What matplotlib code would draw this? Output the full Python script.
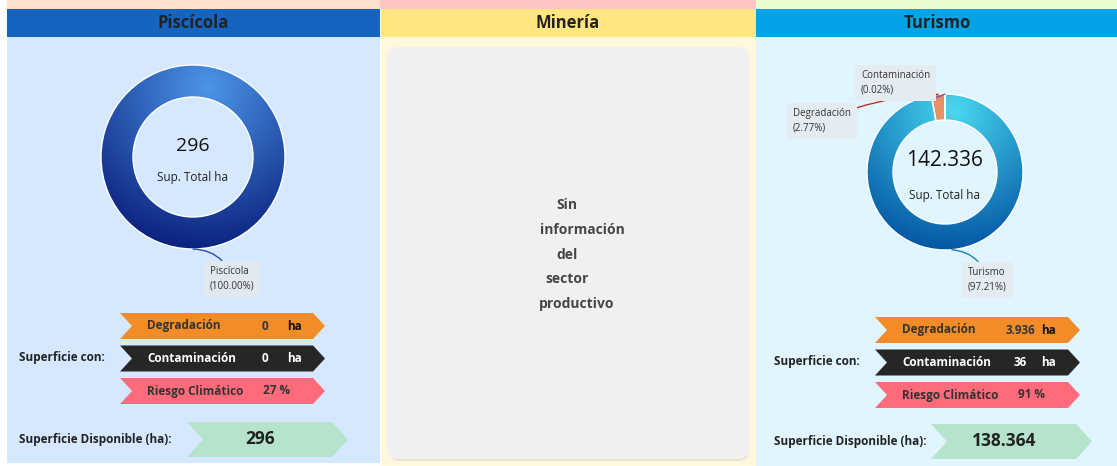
import numpy as np
import matplotlib.pyplot as plt
from matplotlib.patches import Rectangle, Polygon, FancyBboxPatch
from matplotlib.colors import LinearSegmentedColormap

plt.rcParams['font.family'] = ['Open Sans', 'DejaVu Sans']

W, H = 1117, 466

# ---- data ----
sectors = ['Piscícola', 'Minería', 'Turismo']
pisc_labels = ['Piscícola']
pisc_values = [296]
pisc_pct = ['100.00%']
tur_labels = ['Turismo', 'Degradación', 'Contaminación']
tur_values = [138364, 3936, 36]
tur_pct = ['97.21%', '2.77%', '0.02%']
totals = [296, None, 142336]
degradacion = [0, None, 3936]
contaminacion = [0, None, 36]
riesgo = [27, None, 91]
disponible = [296, None, 138364]
mineria_msg = ['Sin', 'información', 'del', 'sector', 'productivo']


def Y(y):
    return H - y


def fmt(n):
    return f"{n:,}".replace(',', '.')


fig = plt.figure(figsize=(W / 100, H / 100), dpi=100)
ax = fig.add_axes([0, 0, 1, 1])
ax.set_xlim(0, W)
ax.set_ylim(0, H)
ax.axis('off')


def rect(x0, x1, y0, y1, color, z=1):
    ax.add_patch(Rectangle((x0, Y(y1)), x1 - x0, y1 - y0, fc=color, ec='none', zorder=z))


# panels
rect(7, 380, 0, 9, '#FFE0CC')
rect(380, 756, 0, 9, '#FFC4C4')
rect(756, W, 0, 9, '#E8FCCF')
rect(7, 380, 9, 37, '#1565C0')
rect(381, 756, 9, 37, '#FFE680')
rect(756, W, 9, 37, '#03A3E8')
rect(7, 380, 37, 463, '#D6E8FF')
rect(381, 756, 37, 466, '#FFF8DF')
rect(756, W, 37, 466, '#E0F5FF')
for name, xc in zip(sectors, [193, 568, 937]):
    ax.text(xc, Y(23), name, ha='center', va='center', fontsize=12,
            fontweight='bold', color='#222222', zorder=5)

# minería placeholder
ax.add_patch(FancyBboxPatch((389, Y(461)), 360, 412, boxstyle='round,pad=0,rounding_size=11',
                            fc='#E8E4D4', ec='none', zorder=2))
ax.add_patch(FancyBboxPatch((387, Y(459)), 362, 412, boxstyle='round,pad=0,rounding_size=11',
                            fc='#F0F0F0', ec='none', zorder=3))
for word, xc, yc in zip(mineria_msg, [567, 582, 567, 567, 577], [205, 230, 255, 279, 304]):
    ax.text(xc, Y(yc), word, ha='center', va='center', fontsize=10, fontweight='bold',
            color='#464646', zorder=5)


def donut(cx, cy, r, w, values, grads):
    wedges, _ = ax.pie(values, radius=r, center=(cx, Y(cy)), startangle=90,
                       counterclock=False,
                       wedgeprops=dict(width=w, edgecolor='white', linewidth=1))
    xs = np.linspace(cx - r, cx + r, 300)
    ys = np.linspace(Y(cy) - r, Y(cy) + r, 300)
    XX, YY = np.meshgrid(xs, ys)
    for wd, (c0, c1, dx, dy) in zip(wedges, grads):
        wd.set_zorder(4)
        wd.set_facecolor('none')
        cmap = LinearSegmentedColormap.from_list('g', [c0, c1])
        d = np.hypot(XX - (cx + dx), YY - (Y(cy) + dy)) / (1.9 * r)
        im = ax.imshow(d, extent=(cx - r, cx + r, Y(cy) - r, Y(cy) + r), origin='lower',
                       cmap=cmap, vmin=0, vmax=1, zorder=3, interpolation='bilinear')
        im.set_clip_path(wd)
    ax.set_xlim(0, W)
    ax.set_ylim(0, H)
    ax.set_aspect('auto')
    return wedges


def anchor(cx, cy, r, values, i):
    tot = float(sum(values))
    start = sum(values[:i]) / tot
    mid = 90 - 360 * (start + values[i] / tot / 2)
    a = np.deg2rad(mid)
    return cx + r * np.cos(a), Y(cy) + r * np.sin(a)


def label(xy, txt_xy, text, color, rad, fc):
    ax.annotate(text, xy=xy, xytext=(txt_xy[0], Y(txt_xy[1])), ha='left', va='center',
                fontsize=7, color='#333333', linespacing=1.4, zorder=6,
                bbox=dict(boxstyle='square,pad=0.6', fc=fc, ec='none'),
                arrowprops=dict(arrowstyle='-', color=color, lw=1,
                                connectionstyle=f'arc3,rad={rad}', shrinkA=0, shrinkB=0))


# Piscícola donut
donut(193, 157, 92, 32, pisc_values, [('#4C95E8', '#061A78', 15, 70)])
ax.text(193, Y(146), fmt(totals[0]), ha='center', va='center', fontsize=14, color='#111111', zorder=6)
ax.text(193, Y(178), 'Sup. Total ha', ha='center', va='center', fontsize=8.5, color='#222222', zorder=6)
label(anchor(193, 157, 92, pisc_values, 0), (210, 279),
      f'{pisc_labels[0]}\n({pisc_pct[0]})', '#2050B0', 0.35, '#E1E8F0')

# Turismo donut
donut(945, 172, 78, 26, tur_values,
      [('#48D8F0', '#0050A0', 10, 62), ('#E8946A', '#D0602E', 0, 60), ('#9050B0', '#703090', 0, 60)])
ax.text(945, Y(161), fmt(totals[2]), ha='center', va='center', fontsize=15, color='#111111', zorder=6)
ax.text(945, Y(196), 'Sup. Total ha', ha='center', va='center', fontsize=8.5, color='#222222', zorder=6)
tur_boxes = [(968, 280), (793, 121), (861, 83)]
tur_line = [('#2080C0', 0.35), ('#C03020', -0.1), ('#8050A0', 0.4)]
for i, (lab, pct) in enumerate(zip(tur_labels, tur_pct)):
    label(anchor(945, 172, 78, tur_values, i), tur_boxes[i], f'{lab}\n({pct})',
          tur_line[i][0], tur_line[i][1], '#E4ECF2')


def chevron(x0, x1, y0, y1, notch, color):
    ym = (y0 + y1) / 2
    pts = [(x0, Y(y0)), (x1 - notch, Y(y0)), (x1, Y(ym)), (x1 - notch, Y(y1)),
           (x0, Y(y1)), (x0 + notch, Y(ym))]
    ax.add_patch(Polygon(pts, closed=True, fc=color, ec='none', zorder=4))


def indicators(i, x0, ytop, gx0, gy0):
    rows = [('Degradación', fmt(degradacion[i]), 'ha', '#F28C28', '#333333'),
            ('Contaminación', fmt(contaminacion[i]), 'ha', '#262626', 'white'),
            ('Riesgo Climático', f'{riesgo[i]} %', None, '#FF6B7A', '#333333')]
    for k, (name, val, unit, col, tc) in enumerate(rows):
        y0 = ytop + k * 32.5
        y1 = y0 + 26
        ym = (y0 + y1) / 2
        chevron(x0, x0 + 205, y0, y1, 12, col)
        ax.text(x0 + 27, Y(ym), name, ha='left', va='center', fontsize=8.5,
                fontweight='bold', color=tc, zorder=5)
        if unit:
            ax.text(x0 + 145, Y(ym), val, ha='center', va='center', fontsize=8.5,
                    fontweight='bold', color=tc, zorder=5)
            ax.text(x0 + 174, Y(ym), unit, ha='center', va='center', fontsize=8.5,
                    fontweight='bold', color='#111111' if tc != 'white' else 'white', zorder=5)
        else:
            ax.text(x0 + 157, Y(ym), val, ha='center', va='center', fontsize=8.5,
                    fontweight='bold', color=tc, zorder=5)
    ax.text(x0 - 101, Y(ytop + 45), 'Superficie con:', ha='left', va='center',
            fontsize=8.5, fontweight='bold', color='#222222', zorder=5)
    chevron(gx0, gx0 + 161, gy0, gy0 + 35, 16, '#B5E3CB')
    ax.text(x0 - 101, Y(gy0 + 17), 'Superficie Disponible (ha):', ha='left', va='center',
            fontsize=8.5, fontweight='bold', color='#222222', zorder=5)
    ax.text(gx0 + 73, Y(gy0 + 17), fmt(disponible[i]), ha='center', va='center',
            fontsize=12.5, fontweight='bold', color='#222222', zorder=5)


indicators(0, 120, 313, 187, 422)
indicators(2, 875, 317, 931, 424)

fig.savefig('out.png', dpi=100)
